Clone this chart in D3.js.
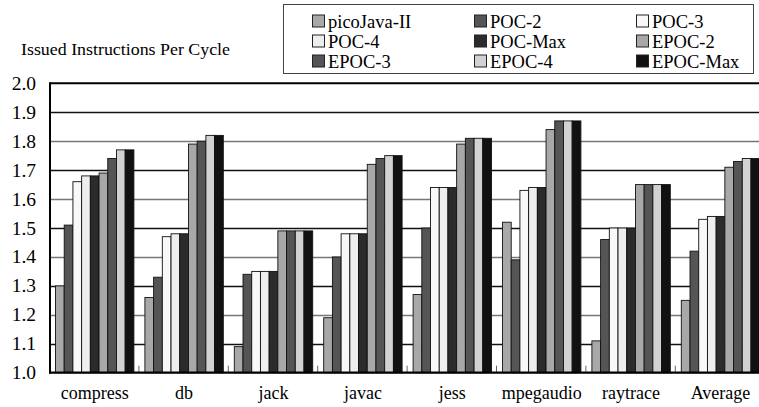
<!DOCTYPE html>
<html><head><meta charset="utf-8">
<script src="https://cdn.jsdelivr.net/npm/d3@7"></script>
<style>body{margin:0;background:#fff}svg{display:block}</style>
</head><body>
<svg id="c" width="759" height="407" font-family="'Liberation Serif', 'Times New Roman', Times, serif"></svg>
<script>
const categories = ["compress","db","jack","javac","jess","mpegaudio","raytrace","Average"];
const seriesNames = ["picoJava-II","POC-2","POC-3","POC-4","POC-Max","EPOC-2","EPOC-3","EPOC-4","EPOC-Max"];
const seriesColors = ["#a8a8a8","#555555","#f8f8f8","#eeeeee","#2b2b2b","#a8a8a8","#555555","#d2d2d2","#111111"];
const picoJava = [1.30,1.26,1.09,1.19,1.27,1.52,1.11,1.25];
const poc2     = [1.51,1.33,1.34,1.40,1.50,1.39,1.46,1.42];
const poc3     = [1.66,1.47,1.35,1.48,1.64,1.63,1.50,1.53];
const poc4     = [1.68,1.48,1.35,1.48,1.64,1.64,1.50,1.54];
const pocMax   = [1.68,1.48,1.35,1.48,1.64,1.64,1.50,1.54];
const epoc2    = [1.69,1.79,1.49,1.72,1.79,1.84,1.65,1.71];
const epoc3    = [1.74,1.80,1.49,1.74,1.81,1.87,1.65,1.73];
const epoc4    = [1.77,1.82,1.49,1.75,1.81,1.87,1.65,1.74];
const epocMax  = [1.77,1.82,1.49,1.75,1.81,1.87,1.65,1.74];
const seriesValues = [picoJava,poc2,poc3,poc4,pocMax,epoc2,epoc3,epoc4,epocMax];
const yTicks = [1.0,1.1,1.2,1.3,1.4,1.5,1.6,1.7,1.8,1.9,2.0];
const yTitle = "Issued Instructions Per Cycle";

(function(){
const svg = d3.select("#c");
const pLeft = 50, pBottom = 372.7, pTop = 83.3, groupW = 89.4;
const x0 = d3.scaleBand().domain(categories).range([pLeft, pLeft + groupW*categories.length]).padding(0);
const x1 = d3.scaleBand().domain(seriesNames).range([5.5, groupW-5.5]).padding(0);
const y = d3.scaleLinear().domain([1,2]).range([pBottom, pTop]);

// gridlines
svg.append("g").selectAll("line").data(yTicks.filter(t=>t>1.05 && t<1.95)).join("line")
  .attr("x1", pLeft).attr("x2", 770)
  .attr("y1", d=>Math.round(y(d))+0.5).attr("y2", d=>Math.round(y(d))+0.5)
  .attr("stroke", (d,i)=> i%2===0 ? "#111" : "#777").attr("stroke-width", 1.3);
svg.append("line").attr("x1", pLeft).attr("x2", 770).attr("y1", y(2)).attr("y2", y(2))
  .attr("stroke","#000").attr("stroke-width",2);

// bars
const groups = svg.append("g").selectAll("g").data(categories).join("g")
  .attr("transform", d=>`translate(${x0(d)},0)`);
groups.selectAll("rect").data((c,ci)=>seriesNames.map((s,si)=>({s, si, v: seriesValues[si][ci]}))).join("rect")
  .attr("x", d=>x1(d.s)).attr("width", x1.bandwidth())
  .attr("y", d=>y(d.v)).attr("height", d=>pBottom - y(d.v))
  .attr("fill", d=>seriesColors[d.si]).attr("stroke","#111").attr("stroke-width",0.9);

// small separators
svg.append("g").selectAll("line").data(categories.slice(1)).join("line")
  .attr("x1", d=>x0(d)-0.5).attr("x2", d=>x0(d)-0.5).attr("y1", pBottom-7).attr("y2", pBottom)
  .attr("stroke","#666").attr("stroke-width",1);

// axes
svg.append("line").attr("x1", pLeft).attr("x2", pLeft).attr("y1", pTop-1).attr("y2", pBottom+1)
  .attr("stroke","#000").attr("stroke-width",2);
svg.append("line").attr("x1", pLeft-1).attr("x2", 770).attr("y1", pBottom).attr("y2", pBottom)
  .attr("stroke","#000").attr("stroke-width",2.2);

// y labels
svg.append("g").selectAll("text").data(yTicks).join("text")
  .attr("x", 36).attr("y", d=>y(d)+6.5).attr("text-anchor","end")
  .attr("font-size", 19.5).text(d=>d.toFixed(1));
// x labels
svg.append("g").selectAll("text").data(categories).join("text")
  .attr("x", d=>x0(d)+groupW/2).attr("y", 399).attr("text-anchor","middle")
  .attr("font-size", 18).text(d=>d);
// title
svg.append("text").attr("x", 21).attr("y", 55).attr("font-size", 16)
  .attr("textLength", 209).attr("lengthAdjust", "spacingAndGlyphs").text(yTitle);

// legend
const lg = svg.append("g");
lg.append("rect").attr("x", 283.5).attr("y", 4.5).attr("width", 470).attr("height", 69)
  .attr("fill","#fff").attr("stroke","#444").attr("stroke-width",1);
const colX = [312, 474, 636];
const rowY = [21.5, 41.5, 61.5];
const items = lg.selectAll("g").data(seriesNames).join("g")
  .attr("transform", (d,i)=>`translate(${colX[i%3]},${rowY[Math.floor(i/3)]})`);
items.append("rect").attr("x",0.5).attr("y",-6.5).attr("width",12).attr("height",12)
  .attr("fill",(d,i)=>seriesColors[i]).attr("stroke","#222").attr("stroke-width",1);
items.append("text").attr("x",16).attr("y",6).attr("font-size",18.5).text(d=>d);
})();
</script>
</body></html>
